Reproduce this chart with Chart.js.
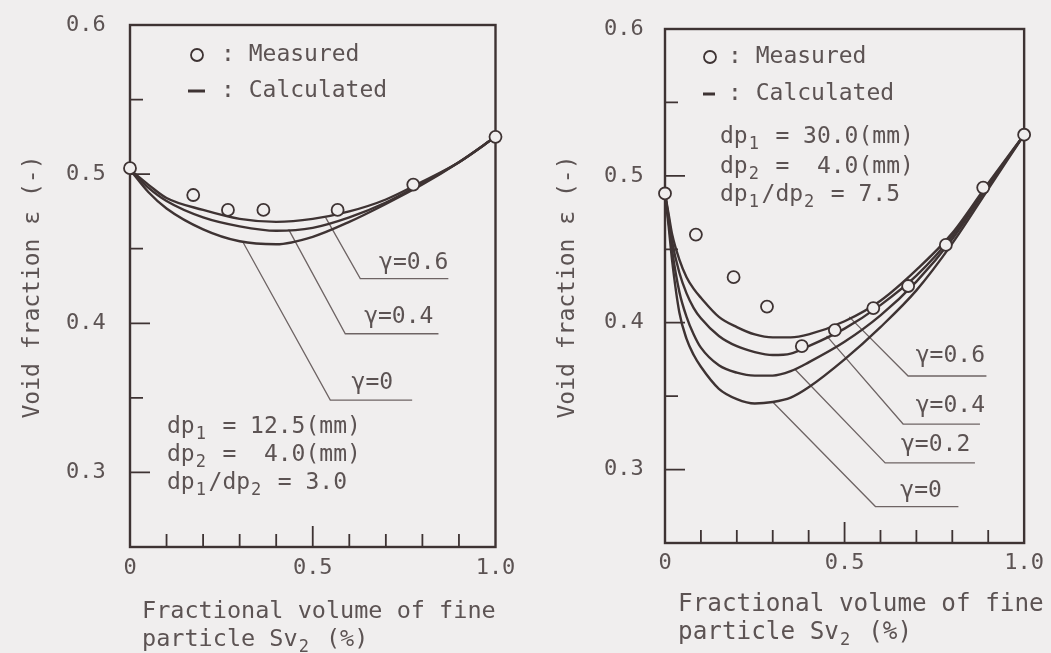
<!DOCTYPE html>
<html>
<head>
<meta charset="utf-8">
<script src="https://cdn.jsdelivr.net/npm/chart.js@4.4.0/dist/chart.umd.min.js"></script>
<style>
html, body { margin: 0; padding: 0; background: #f0eeee; }
#wrap { position: relative; width: 1051px; height: 653px; overflow: hidden; }
canvas { position: absolute; top: 0; }
#left { left: 0; }
#right { left: 525px; }
</style>
</head>
<body>
<div id="wrap">
  <canvas id="left" width="525" height="653"></canvas>
  <canvas id="right" width="526" height="653"></canvas>
</div>
<script>
// Ticks
const X_TICKS = [0, 0.1, 0.2, 0.3, 0.4, 0.5, 0.6, 0.7, 0.8, 0.9, 1.0];
const X_LABELS = ['0', '', '', '', '', '0.5', '', '', '', '', '1.0'];
const Y_TICKS = [0.3, 0.35, 0.4, 0.45, 0.5, 0.55, 0.6];
const Y_LABELS = ['0.3', '', '0.4', '', '0.5', '', '0.6'];

// Left panel: dp1/dp2 = 3.0
const LEFT_SV = [0, 0.05, 0.1, 0.2, 0.3, 0.4, 0.5, 0.6, 0.7, 0.8, 0.9, 1.0];
const LEFT_G06 = [0.503, 0.493, 0.484, 0.476, 0.470, 0.468, 0.470, 0.475, 0.483, 0.495, 0.508, 0.525];
const LEFT_G04 = [0.503, 0.491, 0.482, 0.471, 0.465, 0.462, 0.464, 0.471, 0.481, 0.494, 0.508, 0.525];
const LEFT_G0 = [0.503, 0.488, 0.477, 0.463, 0.455, 0.453, 0.458, 0.468, 0.480, 0.493, 0.508, 0.525];
const LEFT_MEAS_X = [0, 0.173, 0.268, 0.365, 0.568, 0.775, 1.0];
const LEFT_MEAS_Y = [0.504, 0.486, 0.476, 0.476, 0.476, 0.493, 0.525];

// Right panel: dp1/dp2 = 7.5
const RIGHT_SV = [0, 0.01, 0.02, 0.04, 0.06, 0.08, 0.1, 0.15, 0.2, 0.25, 0.3, 0.35, 0.4, 0.5, 0.6, 0.7, 0.8, 0.9, 1.0];
const RIGHT_G06 = [0.488, 0.474, 0.460, 0.443, 0.431, 0.423, 0.417, 0.404, 0.397, 0.392, 0.390, 0.390, 0.392, 0.401, 0.415, 0.436, 0.461, 0.495, 0.528];
const RIGHT_G04 = [0.488, 0.472, 0.455, 0.434, 0.420, 0.410, 0.403, 0.391, 0.384, 0.380, 0.378, 0.379, 0.384, 0.396, 0.412, 0.432, 0.459, 0.494, 0.528];
const RIGHT_G02 = [0.488, 0.469, 0.449, 0.421, 0.404, 0.392, 0.383, 0.371, 0.366, 0.364, 0.364, 0.367, 0.373, 0.387, 0.405, 0.428, 0.457, 0.493, 0.528];
const RIGHT_G0 = [0.488, 0.466, 0.442, 0.407, 0.389, 0.378, 0.370, 0.355, 0.348, 0.345, 0.346, 0.349, 0.356, 0.375, 0.397, 0.422, 0.454, 0.491, 0.528];
const RIGHT_MEAS_X = [0, 0.086, 0.191, 0.284, 0.381, 0.473, 0.58, 0.677, 0.782, 0.886, 1.0];
const RIGHT_MEAS_Y = [0.488, 0.460, 0.431, 0.411, 0.384, 0.395, 0.410, 0.425, 0.453, 0.492, 0.528];

const BG = '#f0eeee';
const INK = '#3e3333';
const TEXT = '#5c5353';
const LEAD = '#6e6464';
const MONO = '"DejaVu Sans Mono", "Liberation Mono", monospace';

const pts = (xs, ys) => xs.map((x, i) => ({ x: x, y: ys[i] }));

function drawRich(ctx, x, y, parts, size) {
    ctx.font = size + 'px ' + MONO;
    const cell = ctx.measureText('0').width;
    parts.forEach(p => {
        if (p[0] === '_') {
            ctx.font = Math.round(size * 0.72) + 'px ' + MONO;
            ctx.fillText(p.slice(1), x + 1, y + 8);
            x += cell;
            ctx.font = size + 'px ' + MONO;
        } else {
            ctx.fillText(p, x, y);
            x += ctx.measureText(p).width;
        }
    });
}

const panelDeco = {
    id: 'panelDeco',
    beforeDatasetsDraw(chart, args, o) {
        const ctx = chart.ctx, ca = chart.chartArea;
        const xs = chart.scales.x, ys = chart.scales.y;
        ctx.save();
        // leader lines
        ctx.strokeStyle = LEAD;
        ctx.lineWidth = 1.3;
        o.leaders.forEach(l => {
            ctx.beginPath();
            l.pts.forEach((p, i) => {
                const px = xs.getPixelForValue(p[0]), py = ys.getPixelForValue(p[1]);
                if (i === 0) ctx.moveTo(px, py); else ctx.lineTo(px, py);
            });
            ctx.stroke();
        });
        // frame and inward ticks
        ctx.strokeStyle = INK;
        ctx.lineWidth = 2.4;
        ctx.strokeRect(ca.left, ca.top, ca.right - ca.left, ca.bottom - ca.top);
        ctx.lineWidth = 1.8;
        ctx.beginPath();
        X_TICKS.forEach((v, i) => {
            const px = xs.getPixelForValue(v);
            const len = X_LABELS[i] === '0.5' ? 21 : 13;
            if (v > 0 && v < 1) { ctx.moveTo(px, ca.bottom); ctx.lineTo(px, ca.bottom - len); }
        });
        Y_TICKS.forEach((v, i) => {
            const py = ys.getPixelForValue(v);
            const len = Y_LABELS[i] ? 20 : 13;
            if (v < 0.6) { ctx.moveTo(ca.left, py); ctx.lineTo(ca.left + len, py); }
        });
        ctx.stroke();
        ctx.restore();
    },
    afterDraw(chart, args, o) {
        const ctx = chart.ctx, ca = chart.chartArea;
        const xs = chart.scales.x, ys = chart.scales.y;
        ctx.save();
        ctx.fillStyle = TEXT;
        ctx.textBaseline = 'middle';
        // y title
        ctx.save();
        ctx.translate(ca.left + o.yTitleDx, o.yTitleCy);
        ctx.rotate(-Math.PI / 2);
        ctx.textAlign = 'center';
        ctx.font = '23px ' + MONO;
        ctx.fillText('Void fraction \u03b5 (-)', 0, 0);
        ctx.restore();
        ctx.textAlign = 'left';
        // x title
        drawRich(ctx, ca.left + o.xTitle[0], ca.bottom + o.xTitle[1], ['Fractional volume of fine'], o.xTitleSize);
        drawRich(ctx, ca.left + o.xTitle[0], ca.bottom + o.xTitle[2], ['particle Sv', '_2', ' (%)'], o.xTitleSize);
        // legend
        const lg = o.legend;
        ctx.strokeStyle = INK;
        ctx.lineWidth = 1.8;
        ctx.beginPath();
        ctx.arc(ca.left + lg.circle[0], ca.top + lg.circle[1], 6, 0, Math.PI * 2);
        ctx.stroke();
        ctx.lineWidth = 3;
        ctx.beginPath();
        ctx.moveTo(ca.left + lg.dash[0], ca.top + lg.dash[2]);
        ctx.lineTo(ca.left + lg.dash[1], ca.top + lg.dash[2]);
        ctx.stroke();
        drawRich(ctx, ca.left + lg.textX, ca.top + lg.circle[1], [': Measured'], 23);
        drawRich(ctx, ca.left + lg.textX, ca.top + lg.dash[2], [': Calculated'], 23);
        // particle sizes
        o.notes.lines.forEach((parts, i) => {
            drawRich(ctx, ca.left + o.notes.x, ca.top + o.notes.y[i], parts, 23);
        });
        // gamma labels
        ctx.textAlign = 'right';
        ctx.font = '23px ' + MONO;
        o.tags.forEach(t => {
            ctx.fillText(t.text, xs.getPixelForValue(t.at[0]), ys.getPixelForValue(t.at[1]));
        });
        ctx.restore();
    }
};

function curve(data) {
    return {
        data: data,
        borderColor: INK,
        borderWidth: 2.4,
        pointRadius: 0,
        cubicInterpolationMode: 'monotone',
        fill: false,
        order: 1
    };
}

function makePanel(id, curves, meas, layout, deco) {
    const tickFont = { family: MONO, size: 22 };
    return new Chart(document.getElementById(id).getContext('2d'), {
        type: 'line',
        data: {
            datasets: curves.map(curve).concat([{
                data: meas,
                showLine: false,
                pointRadius: 6,
                pointBorderWidth: 1.8,
                pointBorderColor: INK,
                pointBackgroundColor: BG,
                order: 0
            }])
        },
        options: {
            responsive: false,
            animation: false,
            clip: false,
            layout: { padding: layout.padding, autoPadding: false },
            plugins: { legend: { display: false }, tooltip: { enabled: false }, panelDeco: deco },
            scales: {
                x: {
                    type: 'linear', min: 0, max: 1,
                    afterBuildTicks: s => { s.ticks = X_TICKS.map(v => ({ value: v })); },
                    afterFit: s => { s.height = layout.xHeight; },
                    ticks: { callback: (v, i) => X_LABELS[i], font: tickFont, color: TEXT, padding: layout.xPad, autoSkip: false, maxRotation: 0 },
                    grid: { display: false, drawTicks: false },
                    border: { display: false }
                },
                y: {
                    type: 'linear', min: 0.25, max: 0.6,
                    afterBuildTicks: s => { s.ticks = Y_TICKS.map(v => ({ value: v })); },
                    afterFit: s => { s.width = layout.yWidth; },
                    ticks: { callback: (v, i) => Y_LABELS[i], font: tickFont, color: TEXT, padding: 0, crossAlign: 'far', autoSkip: false },
                    grid: { display: false, drawTicks: false },
                    border: { display: false }
                }
            }
        },
        plugins: [panelDeco]
    });
}

makePanel('left',
    [pts(LEFT_SV, LEFT_G06), pts(LEFT_SV, LEFT_G04), pts(LEFT_SV, LEFT_G0)],
    pts(LEFT_MEAS_X, LEFT_MEAS_Y),
    { padding: { left: 66, right: 29.5, top: 25, bottom: 0 }, yWidth: 64, xHeight: 106, xPad: 8 },
    {
        yTitleDx: -97,
        yTitleCy: 287,
        xTitle: [12, 65, 93],
        xTitleSize: 23.5,
        legend: { circle: [67, 30], dash: [58, 75, 66], textX: 91 },
        notes: {
            x: 37, y: [402, 430, 458],
            lines: [['dp', '_1', ' = 12.5(mm)'], ['dp', '_2', ' =  4.0(mm)'], ['dp', '_1', '/dp', '_2', ' = 3.0']]
        },
        leaders: [
            { pts: [[0.535, 0.471], [0.630, 0.430], [0.871, 0.430]] },
            { pts: [[0.434, 0.463], [0.589, 0.393], [0.844, 0.393]] },
            { pts: [[0.310, 0.454], [0.548, 0.3485], [0.772, 0.3485]] }
        ],
        tags: [
            { text: '\u03b3=0.6', at: [0.871, 0.4407] },
            { text: '\u03b3=0.4', at: [0.830, 0.4044] },
            { text: '\u03b3=0', at: [0.720, 0.360] }
        ]
    });

makePanel('right',
    [pts(RIGHT_SV, RIGHT_G06), pts(RIGHT_SV, RIGHT_G04), pts(RIGHT_SV, RIGHT_G02), pts(RIGHT_SV, RIGHT_G0)],
    pts(RIGHT_MEAS_X, RIGHT_MEAS_Y),
    { padding: { left: 79, right: 19, top: 29, bottom: 0 }, yWidth: 61, xHeight: 110, xPad: 7 },
    {
        yTitleDx: -97,
        yTitleCy: 287,
        xTitle: [13, 62, 90],
        xTitleSize: 24.3,
        legend: { circle: [45, 28], dash: [38, 50, 65], textX: 63 },
        notes: {
            x: 55, y: [108, 138, 166],
            lines: [['dp', '_1', ' = 30.0(mm)'], ['dp', '_2', ' =  4.0(mm)'], ['dp', '_1', '/dp', '_2', ' = 7.5']]
        },
        leaders: [
            { pts: [[0.513, 0.404], [0.677, 0.3637], [0.895, 0.3637]] },
            { pts: [[0.450, 0.391], [0.663, 0.331], [0.877, 0.331]] },
            { pts: [[0.363, 0.368], [0.613, 0.3045], [0.863, 0.3045]] },
            { pts: [[0.300, 0.346], [0.586, 0.2748], [0.817, 0.2748]] }
        ],
        tags: [
            { text: '\u03b3=0.6', at: [0.891, 0.3772] },
            { text: '\u03b3=0.4', at: [0.891, 0.3432] },
            { text: '\u03b3=0.2', at: [0.850, 0.3164] },
            { text: '\u03b3=0', at: [0.771, 0.2851] }
        ]
    });
</script>
</body>
</html>
